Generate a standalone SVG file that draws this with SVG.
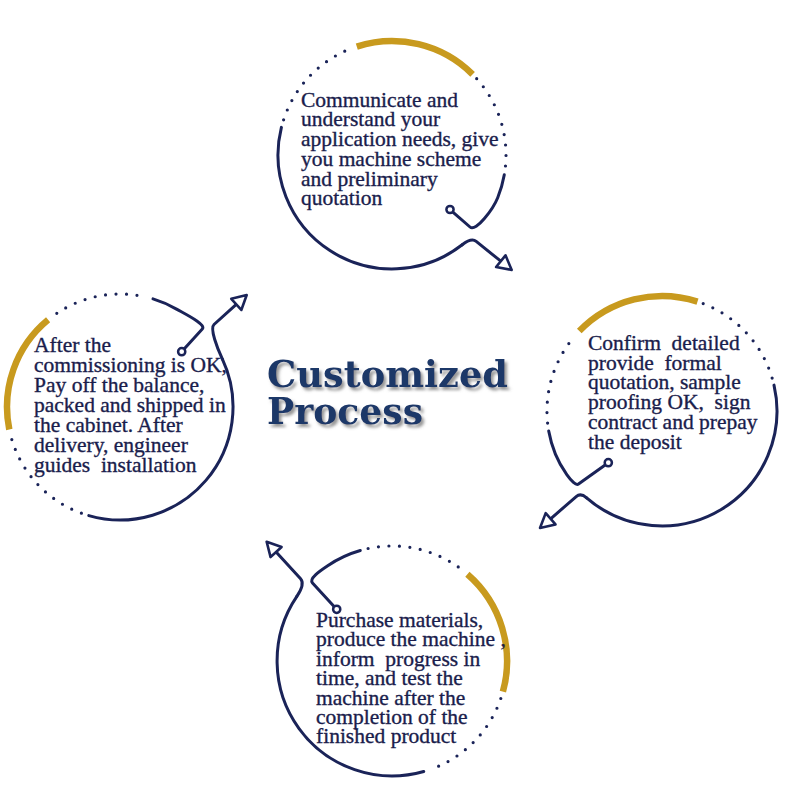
<svg xmlns="http://www.w3.org/2000/svg" width="790" height="790" viewBox="0 0 790 790">
<style>
.ln{fill:none;stroke:#1a2358;stroke-width:3;stroke-linecap:round;stroke-linejoin:round}
.gd{fill:none;stroke:#c89a1e;stroke-width:6.5}
.dt{fill:none;stroke:#1a2358;stroke-width:3.2;stroke-linecap:round;stroke-dasharray:0 10.5}
.sc{fill:#fff;stroke:#1a2358;stroke-width:2.5}
.tx{font-family:"Liberation Serif","Times New Roman",serif;font-size:21.5px;fill:#1a1d4c;stroke:#1a1d4c;stroke-width:0.35;white-space:pre}
.ti{font-family:"DejaVu Serif",serif;font-weight:bold;font-size:37px;fill:#1e3768}
</style>
<defs>
<marker id="ah" viewBox="-2 -9.5 19 19" refX="0" refY="0" markerWidth="19" markerHeight="19" markerUnits="userSpaceOnUse" orient="auto">
<path d="M0,-7.5 L14,0 L0,7.5 Z" fill="#fff" stroke="#1a2358" stroke-width="2.6" stroke-linejoin="round"/>
</marker>
<filter id="sh" x="-10%" y="-20%" width="130%" height="160%">
<feDropShadow dx="2.5" dy="3" stdDeviation="1.5" flood-color="#6b6b6b" flood-opacity="0.7"/>
</filter>
</defs>
<rect width="790" height="790" fill="#fff"/>

<g id="title" filter="url(#sh)">
<text class="ti" x="267" y="387" textLength="241" lengthAdjust="spacingAndGlyphs">Customized</text>
<text class="ti" x="267" y="423.5" textLength="156" lengthAdjust="spacingAndGlyphs">Process</text>
</g>

<g id="node-1">
<path class="gd" d="M356.8,46.6 A114,114 0 0 1 472.6,74.4"/>
<path class="dt" d="M283.6,119.8 A114,114 0 0 1 351.2,48.5"/>
<path class="dt" d="M476.7,78.7 A114,114 0 0 1 504.9,170.9"/>
<path class="ln" d="M504.3,174.8 A114,114 0 0 1 497.7,197.7 C493.2,208.8 476,232.3 470,227 L452.6,211.8"/>
<circle class="sc" cx="450" cy="209.5" r="3.6"/>
<path class="ln" d="M281.4,127.4 A114,114 0 0 0 462.2,244.8"/>
<text class="tx"><tspan x="301" y="106.7">Communicate and</tspan><tspan x="301" y="126.4">understand your</tspan><tspan x="301" y="146.1">application needs, give</tspan><tspan x="301" y="165.8">you machine scheme</tspan><tspan x="301" y="185.5">and preliminary</tspan><tspan x="301" y="205.2">quotation</tspan></text>
</g>

<g id="node-2">
<path class="gd" d="M579.3,331.1 A115,115 0 0 1 697.5,301.6"/>
<path class="dt" d="M703.2,303.6 A115,115 0 0 1 772.5,379.3"/>
<path class="dt" d="M547.6,423.1 A115,115 0 0 1 573.9,337.1"/>
<path class="ln" d="M548.7,431 A115,115 0 0 0 555.4,454.1 C559.9,465.2 573.6,487.5 578.5,484 L605.5,464.7"/>
<circle class="sc" cx="608.3" cy="462.7" r="3.6"/>
<path class="ln" d="M774,385.1 A115,115 0 0 1 586.6,497.8"/>
<text class="tx"><tspan x="588" y="350">Confirm  detailed</tspan><tspan x="588" y="369.7">provide  formal</tspan><tspan x="588" y="389.4">quotation, sample</tspan><tspan x="588" y="409.1">proofing OK,  sign</tspan><tspan x="588" y="428.8">contract and prepay</tspan><tspan x="588" y="448.5">the deposit</tspan></text>
</g>

<g id="node-3">
<path class="gd" d="M467.4,574.2 A115,115 0 0 1 502.9,691.7"/>
<path class="dt" d="M368.1,548.5 A115,115 0 0 1 461.2,569.1"/>
<path class="dt" d="M500.8,698.5 A115,115 0 0 1 429.5,769.8"/>
<path class="ln" d="M360.3,550.5 A115,115 0 0 0 327.7,565.7 C320.2,570.7 308.5,578.5 312.5,583 L334.3,606.7"/>
<circle class="sc" cx="336.7" cy="609.3" r="3.6"/>
<path class="ln" d="M423.7,771.5 A115,115 0 0 1 296.7,596.7"/>
<text class="tx"><tspan x="316" y="626.7">Purchase materials,</tspan><tspan x="316" y="646.1">produce the machine ,</tspan><tspan x="316" y="665.6">inform  progress in</tspan><tspan x="316" y="685">time, and test the</tspan><tspan x="316" y="704.5">machine after the</tspan><tspan x="316" y="723.9">completion of the</tspan><tspan x="316" y="743.4">finished product</tspan></text>
</g>

<g id="node-4">
<path class="gd" d="M9.3,429.5 A113,113 0 0 1 48.1,319.8"/>
<path class="dt" d="M56.8,313.3 A113,113 0 0 1 143.5,296.5"/>
<path class="dt" d="M81.4,513.2 A113,113 0 0 1 11.4,438.1"/>
<path class="ln" d="M153,298.9 A113,113 0 0 1 176.5,309.1 C185.2,314.1 206.5,324.5 202.3,329 L184.1,349.1"/>
<circle class="sc" cx="181.7" cy="351.7" r="3.6"/>
<path class="ln" d="M88.8,515.6 A113,113 0 0 0 222.4,359.2"/>
<text class="tx"><tspan x="34" y="351.7">After the</tspan><tspan x="34" y="371.7">commissioning is OK,</tspan><tspan x="34" y="391.7">Pay off the balance,</tspan><tspan x="34" y="411.7">packed and shipped in</tspan><tspan x="34" y="431.7">the cabinet. After</tspan><tspan x="34" y="451.7">delivery, engineer</tspan><tspan x="34" y="471.7">guides  installation</tspan></text>
</g>

<g id="connectors">
<path class="ln" marker-end="url(#ah)" d="M462.2,244.8 Q471.5,237.6 476.2,241.4 L500.8,261.2"/>
<path class="ln" marker-end="url(#ah)" d="M586.6,497.8 Q580.7,492.7 576.2,496.6 L550.6,518.8"/>
<path class="ln" marker-end="url(#ah)" d="M296.7,596.7 Q305.3,583.9 300.6,578.7 L276.1,552"/>
<path class="ln" marker-end="url(#ah)" d="M222.4,359.2 C217.3,348.3 209.6,328.5 214,324.5 L236.3,304.4"/>
</g>
</svg>
